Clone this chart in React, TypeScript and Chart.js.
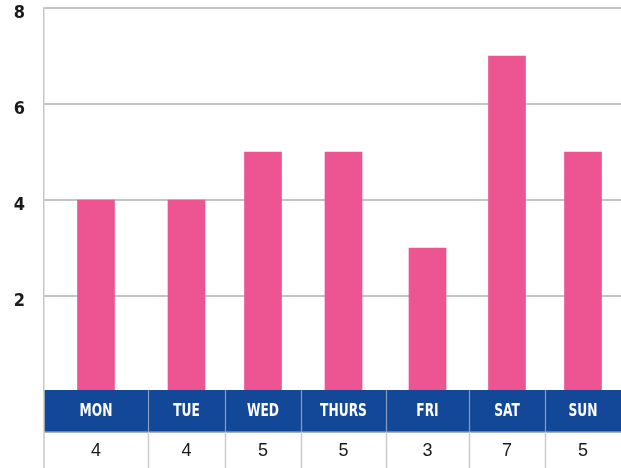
import React, { useEffect, useRef } from 'react';
import { Chart, registerables, CategoryScale } from 'chart.js';

// ---- data ----
const days = ['MON', 'TUE', 'WED', 'THURS', 'FRI', 'SAT', 'SUN'];
const values = [4, 4, 5, 5, 3, 7, 5];
const yTickValues = [2, 4, 6, 8];

// ---- layout (table column widths, relative) ----
const columnWeights = [104, 77, 76, 85, 83, 76, 76];

const BAR_COLOR = '#EC5592';
const BAND_COLOR = '#134797';

class TableCategoryScale extends CategoryScale {
  static id = 'tableCategory';
  static defaults = { ...(CategoryScale as any).defaults };

  edgeForIndex(i: number): number {
    const total = columnWeights.reduce((a, b) => a + b, 0);
    let cum = 0;
    for (let k = 0; k < i; k++) cum += columnWeights[k];
    return (this as any).left + (cum / total) * ((this as any).right - (this as any).left);
  }

  getPixelForValue(value: any): number {
    let v = value;
    if (typeof v !== 'number') v = (this as any).parse(v);
    if (v === null || v === undefined || isNaN(v)) return NaN;
    const i = Math.round(v);
    return (this.edgeForIndex(i) + this.edgeForIndex(i + 1)) / 2;
  }

  getPixelForTick(index: number): number {
    return this.getPixelForValue(index);
  }
}

Chart.register(...registerables, TableCategoryScale);

const tablePlugin = {
  id: 'dayTable',
  afterDraw(chart: any) {
    const { ctx, chartArea } = chart;
    const xs = chart.scales.x as TableCategoryScale;
    const left = chartArea.left;
    const right = chartArea.right;
    const bandTop = chartArea.bottom - 2;
    const bandBottom = bandTop + 42;
    const rowBottom = chart.height;
    const n = days.length;

    ctx.save();
    ctx.fillStyle = BAND_COLOR;
    ctx.fillRect(left, bandTop, right - left, bandBottom - bandTop);

    // band bottom line
    ctx.strokeStyle = '#8496b8';
    ctx.lineWidth = 1.5;
    ctx.beginPath();
    ctx.moveTo(left, bandBottom);
    ctx.lineTo(right, bandBottom);
    ctx.stroke();

    // separators
    for (let i = 1; i < n; i++) {
      const ex = Math.round(xs.edgeForIndex(i)) + 0.5;
      ctx.strokeStyle = '#8c9cc0';
      ctx.lineWidth = 1.2;
      ctx.beginPath();
      ctx.moveTo(ex, bandTop);
      ctx.lineTo(ex, bandBottom);
      ctx.stroke();
      ctx.strokeStyle = '#cccccc';
      ctx.lineWidth = 1.5;
      ctx.beginPath();
      ctx.moveTo(ex, bandBottom);
      ctx.lineTo(ex, rowBottom);
      ctx.stroke();
    }
    // left border through table
    ctx.strokeStyle = '#c8c8c8';
    ctx.lineWidth = 1.5;
    ctx.beginPath();
    ctx.moveTo(left, bandTop);
    ctx.lineTo(left, rowBottom);
    ctx.stroke();

    // texts
    for (let i = 0; i < n; i++) {
      const cx = xs.getPixelForValue(i);
      ctx.save();
      ctx.translate(cx, (bandTop + bandBottom) / 2 + 1);
      ctx.scale(0.8, 1);
      ctx.font = "bold 17px 'Liberation Sans Narrow', 'DejaVu Sans Condensed', sans-serif";
      ctx.fillStyle = '#ffffff';
      ctx.textAlign = 'center';
      ctx.textBaseline = 'middle';
      ctx.fillText(days[i], 0, 0);
      ctx.restore();

      ctx.font = "18px 'Liberation Sans', Arial, sans-serif";
      ctx.fillStyle = '#1a1a1a';
      ctx.textAlign = 'center';
      ctx.textBaseline = 'middle';
      ctx.fillText(String(values[i]), cx, (bandBottom + rowBottom) / 2 + 1);
    }
    ctx.restore();
  },
};

export default function App() {
  const canvasRef = useRef<HTMLCanvasElement | null>(null);

  useEffect(() => {
    if (!canvasRef.current) return;
    const chart = new Chart(canvasRef.current, {
      type: 'bar',
      data: {
        labels: days,
        datasets: [
          {
            data: values,
            backgroundColor: BAR_COLOR,
            barThickness: 37,
            borderWidth: 0,
          },
        ],
      },
      options: {
        animation: false,
        responsive: true,
        maintainAspectRatio: false,
        layout: { padding: { top: 8, right: 0, bottom: 76, left: 0 } },
        plugins: { legend: { display: false }, tooltip: { enabled: false } },
        scales: {
          x: {
            type: 'tableCategory' as any,
            display: false,
          },
          y: {
            min: 0,
            max: 8,
            afterBuildTicks: (scale: any) => {
              scale.ticks = [0, ...yTickValues].map((v) => ({ value: v }));
            },
            afterFit: (scale: any) => {
              scale.width = 44;
              scale.paddingTop = 0;
              scale.paddingBottom = 0;
            },
            ticks: {
              padding: 19,
              labelOffset: 5,
              color: '#1a1a1a',
              font: {
                family: "'Liberation Sans Narrow', 'DejaVu Sans Condensed', sans-serif",
                size: 18,
                weight: 'bold',
              },
              callback: (v: any) => (v === 0 ? '' : String(v)),
            },
            grid: { color: '#c4c4c4', lineWidth: 2, drawTicks: false },
            border: { color: '#c8c8c8', width: 1.5 },
          },
        },
      },
      plugins: [tablePlugin],
    });
    return () => chart.destroy();
  }, []);

  return (
    <div style={{ position: 'fixed', left: 0, top: 0, width: 621, height: 468, background: '#fff' }}>
      <canvas ref={canvasRef} />
    </div>
  );
}
